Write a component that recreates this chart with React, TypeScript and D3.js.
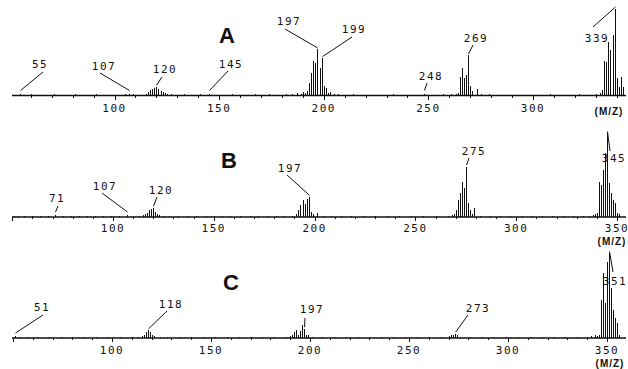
import { useEffect, useRef } from "react";
import * as d3 from "d3";

// [m/z, relative intensity %]
const spectrumA: [number, number][] = [
  [52, 1], [55, 2], [57, 1], [60, 1.5], [63, 1], [67, 1], [71, 1.5], [74, 1], [77, 1], [81, 1.5], [84, 1], [88, 1],
  [91, 1.5], [95, 1], [98, 1], [102, 1], [105, 1.5], [107, 2], [109, 1.5], [113, 1], [115, 2],
  [116, 4], [117, 6], [118, 8], [119, 9], [120, 10], [121, 7], [122, 5], [123, 4], [124, 3], [125, 2],
  [127, 1.5], [130, 1], [133, 1.5], [137, 1], [141, 1.5], [145, 2], [147, 1], [152, 1], [156, 1.5], [160, 1],
  [163, 1], [167, 1.5], [171, 1], [174, 1.5], [178, 1], [182, 1.5], [185, 2], [187, 3], [189, 2],
  [190, 4], [191, 3], [192, 5], [193, 14], [194, 26], [195, 40], [196, 37], [197, 53], [198, 32], [199, 43],
  [200, 11], [201, 9], [202, 3], [203, 4], [205, 2], [207, 1.5], [210, 1], [214, 1.5], [219, 1], [224, 1],
  [228, 1], [233, 1.5], [238, 1], [243, 1], [248, 2], [252, 1], [257, 1.5], [261, 1.5], [263, 2],
  [264, 3], [265, 21], [266, 32], [267, 20], [268, 23], [269, 46], [270, 11], [271, 5], [273, 8], [275, 2],
  [279, 1.5], [283, 1], [288, 1], [293, 1], [298, 1], [303, 1], [308, 1.5], [313, 1], [318, 1], [322, 1.5],
  [326, 1], [330, 2], [332, 3],
  [333, 6], [334, 40], [335, 38], [336, 61], [337, 52], [338, 69], [339, 100], [340, 20], [341, 10], [342, 21], [343, 10],
];

const spectrumB: [number, number][] = [
  [51, 1], [53, 1.5], [56, 1], [60, 1], [64, 1.5], [68, 1], [71, 2], [75, 1], [79, 1], [83, 1], [87, 1.5],
  [91, 1], [95, 1], [99, 1], [103, 1], [107, 2], [110, 1.5], [113, 1], [115, 2],
  [116, 3], [117, 5], [118, 8], [119, 10], [120, 11], [121, 6], [122, 3], [123, 2], [125, 1.5],
  [128, 1], [132, 1], [137, 1], [141, 1], [146, 1], [150, 1], [154, 1], [158, 1], [163, 1], [168, 1],
  [172, 1], [177, 1], [181, 1], [185, 1], [189, 1.5],
  [191, 3], [192, 8], [193, 14], [194, 20], [195, 15], [196, 21], [197, 24], [198, 6], [199, 3], [201, 5],
  [204, 1.5], [208, 1], [213, 1], [218, 1], [224, 1], [230, 1], [236, 1], [242, 1], [248, 1], [254, 1],
  [260, 1], [266, 1.5], [268, 2], [269, 3],
  [270, 8], [271, 20], [272, 29], [273, 42], [274, 35], [275, 60], [276, 17], [277, 8], [278, 4], [279, 11],
  [282, 1.5], [287, 1], [292, 1], [297, 1], [303, 1], [308, 1], [313, 1], [318, 1], [323, 1], [328, 1],
  [333, 1], [336, 1.5], [338, 2], [339, 3], [340, 5],
  [341, 42], [342, 38], [343, 56], [344, 76], [345, 100], [346, 40], [347, 29], [348, 20], [349, 17], [350, 5], [351, 4],
];

const spectrumC: [number, number][] = [
  [51, 2], [53, 1], [57, 1], [62, 1], [68, 1], [74, 1], [80, 1], [86, 1], [92, 1], [98, 1], [104, 1],
  [110, 1.5], [113, 1.5], [115, 2],
  [116, 3], [117, 7], [118, 9], [119, 7], [120, 3], [121, 2],
  [124, 1.5], [128, 1], [134, 1], [140, 1], [146, 1], [152, 1], [158, 1], [164, 1], [170, 1], [176, 1],
  [182, 1], [188, 1],
  [190, 2], [191, 3], [192, 7], [193, 9], [194, 4], [195, 8], [196, 15], [197, 11], [198, 3], [199, 3],
  [201, 1.5], [206, 1], [212, 1], [218, 1], [224, 1], [230, 1], [236, 1], [242, 1], [248, 1], [254, 1],
  [260, 1], [266, 1],
  [270, 2], [271, 3], [272, 4], [273, 5], [274, 3],
  [276, 1], [281, 1], [287, 1], [293, 1], [299, 1], [305, 1], [311, 1], [317, 1], [323, 1], [329, 1],
  [335, 1], [340, 1.5], [342, 2], [344, 3], [345, 2],
  [346, 4], [347, 45], [348, 76], [349, 41], [350, 90], [351, 100], [352, 59], [353, 33], [354, 24], [355, 18], [356, 3],
];

// labelled m/z values
const labelsA = [55, 107, 120, 145, 197, 199, 248, 269, 339];
const labelsB = [71, 107, 120, 197, 275, 345];
const labelsC = [51, 118, 197, 273, 351];

const ticksA = [100, 150, 200, 250, 300];
const ticksB = [100, 150, 200, 250, 300, 350];
const ticksC = [100, 150, 200, 250, 300, 350];

const panelNames = ["A", "B", "C"];

// layout: [text centre x, text baseline y, leader start x, leader start y]
const labelPosA: Record<number, number[]> = {
  55: [40, 68, 43, 72], 107: [104, 70, 100, 73], 120: [165, 73, 162, 77], 145: [231, 68, 228, 71],
  197: [289, 25, 285, 29], 199: [354, 33, 352, 37], 248: [431, 80, 427, 83], 269: [476, 42, 473, 45],
  339: [597, 42, 593, 27],
};
const labelPosB: Record<number, number[]> = {
  71: [57, 202, 58, 206], 107: [105, 190, 102, 193], 120: [161, 194, 157, 197],
  197: [290, 172, 287, 175], 275: [474, 155, 469, 158], 345: [614, 162, 610, 151],
};
const labelPosC: Record<number, number[]> = {
  51: [42, 311, 43, 315], 118: [171, 308, 167, 311], 197: [312, 313, 305, 318],
  273: [478, 312, 468, 315], 351: [615, 285, 613, 272],
};

const layouts = [
  { base: 95.5, dom: [100, 300], rng: [114.5, 533], full: 87, title: [227, 43], tickY: 112, mz: [609, 115], labelPos: labelPosA },
  { base: 217, dom: [100, 350], rng: [113, 617], full: 84, title: [229, 168], tickY: 232, mz: [612, 245], labelPos: labelPosB },
  { base: 338, dom: [100, 350], rng: [112, 607], full: 85, title: [231, 290], tickY: 354, mz: [610, 367], labelPos: labelPosC },
];

const spectra = [spectrumA, spectrumB, spectrumC];
const labelSets = [labelsA, labelsB, labelsC];
const tickSets = [ticksA, ticksB, ticksC];

const W = 628;
const H = 369;
const INK = "#111";
const mono = "'DejaVu Sans Mono', monospace";

export default function App() {
  const svgRef = useRef<SVGSVGElement | null>(null);

  useEffect(() => {
    if (!svgRef.current) return;
    const svg = d3.select(svgRef.current);
    svg.selectAll("*").remove();

    svg.append("rect").attr("width", W).attr("height", H).attr("fill", "#fff");

    layouts.forEach((lay, i) => {
      const g = svg.append("g");
      const data = spectra[i];
      const x = d3.scaleLinear().domain(lay.dom).range(lay.rng);
      const y = d3.scaleLinear().domain([0, 100]).range([lay.base, lay.base - lay.full]);
      const px = (v: number) => Math.round(x(v)) + 0.5;
      const x0 = 12;
      const x1 = 626;

      // peaks
      g.selectAll("line.peak")
        .data(data)
        .join("line")
        .attr("class", "peak")
        .attr("x1", (d) => px(d[0]))
        .attr("x2", (d) => px(d[0]))
        .attr("y1", lay.base)
        .attr("y2", (d) => y(d[1]))
        .attr("stroke", INK)
        .attr("stroke-width", 1)
        .attr("shape-rendering", "crispEdges");

      // baseline
      g.append("line")
        .attr("x1", x0).attr("x2", x1)
        .attr("y1", lay.base).attr("y2", lay.base)
        .attr("stroke", INK).attr("stroke-width", 1.6);

      // minor ticks every 10, longer every 50
      const lo = Math.ceil(x.invert(x0) / 10) * 10;
      const hi = Math.floor(x.invert(x1) / 10) * 10;
      const minor = d3.range(lo, hi + 1, 10);
      g.selectAll("line.tick")
        .data(minor)
        .join("line")
        .attr("class", "tick")
        .attr("x1", (d) => px(d)).attr("x2", (d) => px(d))
        .attr("y1", lay.base)
        .attr("y2", (d) => lay.base + (d % 50 === 0 ? 4 : 2))
        .attr("stroke", INK).attr("stroke-width", 1)
        .attr("shape-rendering", "crispEdges");

      // tick labels
      g.selectAll("text.tl")
        .data(tickSets[i])
        .join("text")
        .attr("class", "tl")
        .attr("x", (d) => x(d))
        .attr("y", lay.tickY)
        .attr("text-anchor", "middle")
        .attr("font-family", mono)
        .attr("font-size", 11)
        .attr("letter-spacing", 1.5)
        .attr("fill", INK)
        .text((d) => String(d));

      // (M/Z)
      g.append("text")
        .attr("x", lay.mz[0]).attr("y", lay.mz[1])
        .attr("text-anchor", "middle")
        .attr("font-family", "'Liberation Sans', Arial, sans-serif")
        .attr("font-weight", "bold")
        .attr("font-size", 10)
        .attr("letter-spacing", 1)
        .attr("fill", INK)
        .text("(M/Z)");

      // panel title
      g.append("text")
        .attr("x", lay.title[0]).attr("y", lay.title[1])
        .attr("text-anchor", "middle")
        .attr("font-family", "'Liberation Sans', Arial, sans-serif")
        .attr("font-weight", "bold")
        .attr("font-size", 22)
        .attr("fill", INK)
        .text(panelNames[i]);

      // peak labels with leader lines
      const intensity = new Map(data.map((d) => [d[0], d[1]]));
      labelSets[i].forEach((mz) => {
        const p = lay.labelPos[mz];
        const top = y(intensity.get(mz) ?? 0);
        const endY = Math.min(top - 1.5, lay.base - 5);
        g.append("line")
          .attr("x1", p[2]).attr("y1", p[3])
          .attr("x2", px(mz)).attr("y2", endY)
          .attr("stroke", INK).attr("stroke-width", 1);
        g.append("text")
          .attr("x", p[0]).attr("y", p[1])
          .attr("text-anchor", "middle")
          .attr("font-family", mono)
          .attr("font-size", 11)
          .attr("letter-spacing", 1.5)
          .attr("fill", INK)
          .text(String(mz));
      });
    });
  }, []);

  return (
    <svg
      ref={svgRef}
      width={W}
      height={H}
      style={{ position: "absolute", left: 0, top: 0, display: "block" }}
    />
  );
}
